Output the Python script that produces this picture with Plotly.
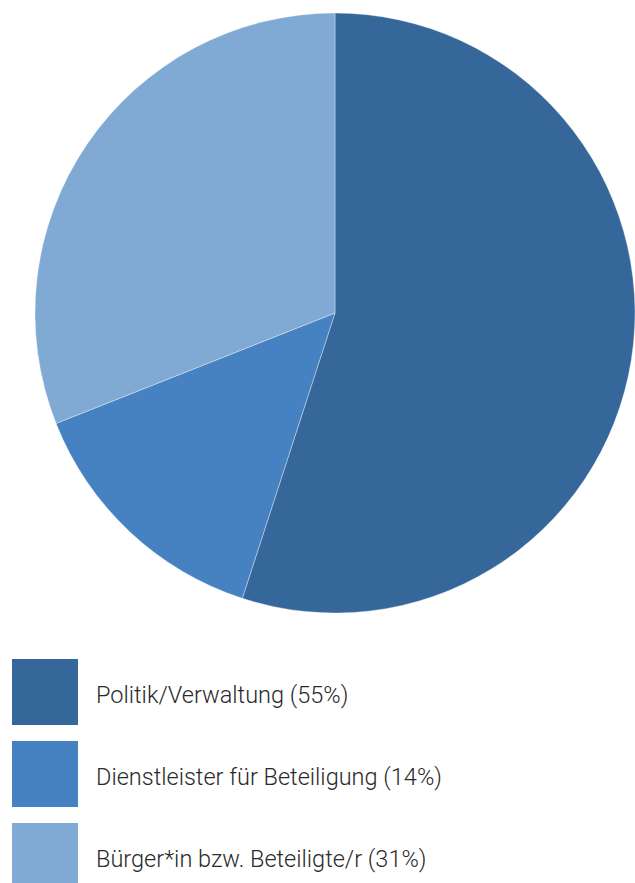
import plotly.graph_objects as go

# Shares of respondents by group
labels = ["Politik/Verwaltung", "Dienstleister für Beteiligung", "Bürger*in bzw. Beteiligte/r"]
values = [55, 14, 31]
colors = ["#36679a", "#4682c1", "#80aad3"]

W, H = 635, 883

fig = go.Figure(
    go.Pie(
        labels=labels,
        values=values,
        sort=False,
        direction="clockwise",
        rotation=0,
        marker=dict(colors=colors, line=dict(color="rgba(255,255,255,0.35)", width=1)),
        textinfo="none",
        hoverinfo="label+percent",
        showlegend=False,
        domain=dict(x=[35 / W, 1], y=[1 - 613 / H, 1 - 13 / H]),
    )
)

# Custom legend: large colour squares with labels
shapes = []
annotations = []
box = 66
step = 82
top0 = 659
for i, (lab, val, col) in enumerate(zip(labels, values, colors)):
    y_top = top0 + i * step
    y_bot = min(y_top + box, H)
    shapes.append(dict(
        type="rect", xref="paper", yref="paper",
        x0=12 / W, x1=78 / W, y0=1 - y_bot / H, y1=1 - y_top / H,
        fillcolor=col, line=dict(width=0),
    ))
    annotations.append(dict(
        xref="paper", yref="paper", x=94 / W, y=1 - (y_top + 36) / H,
        xanchor="left", yanchor="middle", showarrow=False,
        text=f"{lab} ({val}%)",
        font=dict(family="Roboto", size=23.5, color="#2a2a2a", weight=300),
    ))

fig.update_layout(
    width=W, height=H,
    margin=dict(l=0, r=0, t=0, b=0),
    paper_bgcolor="white",
    plot_bgcolor="white",
    shapes=shapes,
    annotations=annotations,
)

fig.write_html("out.html")
